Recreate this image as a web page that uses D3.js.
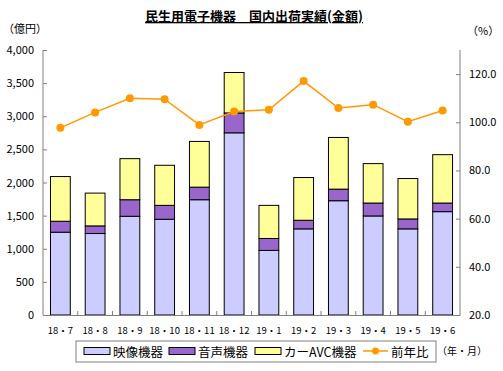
<!DOCTYPE html>
<html><head><meta charset="utf-8">
<script src="https://cdn.jsdelivr.net/npm/d3@7/dist/d3.min.js"></script>
<style>body{margin:0;background:#fff;} text{font-family:"Noto Sans CJK JP","Noto Sans",sans-serif;}</style>
</head><body>
<svg id="c" width="503" height="371"></svg>
<script>
const categories = ["18・7","18・8","18・9","18・10","18・11","18・12","19・1","19・2","19・3","19・4","19・5","19・6"];
const video = [1250,1230,1490,1445,1740,2750,975,1300,1725,1495,1300,1560];
const audio = [165,115,250,210,190,300,180,130,175,195,150,130];
const carAvc = [675,495,620,605,690,610,500,645,780,595,610,730];
const yoy = [97.7,104.1,110.0,109.6,98.9,104.5,105.2,117.1,105.9,107.3,100.2,104.9];
const leftTicks = [0,500,1000,1500,2000,2500,3000,3500,4000];
const rightTicks = [20,40,60,80,100,120];
const seriesNames = ["映像機器","音声機器","カーAVC機器","前年比"];
const colors = ["#ccccff","#9966cc","#ffff99","#ff9900"];

const svg = d3.select("#c");
const L=43, R=460, T=50, B=315;
const x = d3.scaleBand().domain(categories).range([L,R]).paddingInner(0.43).paddingOuter(0.215);
const yL = d3.scaleLinear().domain([0,4000]).range([B,T]);
const yR = d3.scaleLinear().domain([20,130]).range([B,T]);

// title
svg.append("text").attr("x",254).attr("y",21).attr("text-anchor","middle")
  .attr("font-size",13).attr("font-weight","bold").attr("text-decoration","underline").text("民生用電子機器　国内出荷実績(金額)");
svg.append("text").attr("x",3).attr("y",33).attr("font-size",11).text("（億円）");
svg.append("text").attr("x",467).attr("y",35).attr("font-size",11).text("（%）");

// bars
const data = categories.map((c,i)=>({c, vals:[video[i],audio[i],carAvc[i]]}));
const stack = d3.stack().keys([0,1,2]).value((d,k)=>d.vals[k]);
const stacked = stack(data);
stacked.forEach((layer,k)=>{
  svg.append("g").selectAll("rect").data(layer).join("rect")
    .attr("x",(d,i)=>x(categories[i])).attr("width",x.bandwidth())
    .attr("y",d=>yL(d[1])).attr("height",d=>yL(d[0])-yL(d[1]))
    .attr("fill",colors[k]).attr("stroke","#000").attr("stroke-width",1);
});

// axes
const axisColor="#808080";
const gL = svg.append("g").attr("transform",`translate(${L},0)`)
  .call(d3.axisRight(yL).tickValues(leftTicks).tickSize(4).tickFormat(""));
const gR = svg.append("g").attr("transform",`translate(${R},0)`)
  .call(d3.axisLeft(yR).tickValues(rightTicks).tickSize(4).tickFormat(""));
const gB = svg.append("g").attr("transform",`translate(0,${B})`)
  .call(d3.axisTop(x).tickSize(0).tickFormat(""));
[gL,gR,gB].forEach(g=>{g.selectAll("path,line").attr("stroke",axisColor); g.select(".domain").attr("stroke",axisColor);});
gL.select(".domain").attr("d",`M0,${T}V${B}`);
gR.select(".domain").attr("d",`M0,${T}V${B}`);
// x ticks at band boundaries
const step = x.step();
svg.append("g").selectAll("line").data(categories.slice(0,-1)).join("line")
  .attr("x1",d=>x(d)+x.bandwidth()+(step-x.bandwidth())/2).attr("x2",d=>x(d)+x.bandwidth()+(step-x.bandwidth())/2)
  .attr("y1",B).attr("y2",B-4).attr("stroke",axisColor);

svg.append("g").selectAll("text").data(leftTicks).join("text")
  .attr("x",34).attr("y",d=>yL(d)+4).attr("text-anchor","end").attr("font-size",11).text(d=>d3.format(",")(d));
svg.append("g").selectAll("text").data(rightTicks).join("text")
  .attr("x",469).attr("y",d=>yR(d)+4).attr("text-anchor","start").attr("font-size",11).text(d=>d.toFixed(1));
svg.append("g").selectAll("text").data(categories).join("text")
  .attr("x",d=>x(d)+x.bandwidth()/2).attr("y",334).attr("text-anchor","middle").attr("font-size",9.5).text(d=>d);

// line
const line = d3.line().x((d,i)=>x(categories[i])+x.bandwidth()/2).y(d=>yR(d));
svg.append("path").datum(yoy).attr("d",line).attr("fill","none").attr("stroke",colors[3]).attr("stroke-width",1.5);
svg.append("g").selectAll("circle").data(yoy).join("circle")
  .attr("cx",(d,i)=>x(categories[i])+x.bandwidth()/2).attr("cy",d=>yR(d)).attr("r",4).attr("fill",colors[3]);

// legend
const lg = svg.append("g");
lg.append("rect").attr("x",76).attr("y",341).attr("width",360).attr("height",21).attr("fill","#fff").attr("stroke","#808080");
const lx=[84,169,255,363];
for(let k=0;k<3;k++){
  lg.append("rect").attr("x",lx[k]).attr("y",347.5).attr("width",26).attr("height",7).attr("fill",colors[k]).attr("stroke","#000");
  lg.append("text").attr("x",lx[k]+29).attr("y",356.5).attr("font-size",12.5).text(seriesNames[k]);
}
lg.append("line").attr("x1",lx[3]).attr("x2",lx[3]+25).attr("y1",351).attr("y2",351).attr("stroke",colors[3]).attr("stroke-width",1.5);
lg.append("circle").attr("cx",lx[3]+12.5).attr("cy",351).attr("r",3.5).attr("fill",colors[3]);
lg.append("text").attr("x",lx[3]+28).attr("y",356.5).attr("font-size",12.5).text(seriesNames[3]);
svg.append("text").attr("x",437).attr("y",355).attr("font-size",10).text("（年・月）");
</script>
</body></html>
